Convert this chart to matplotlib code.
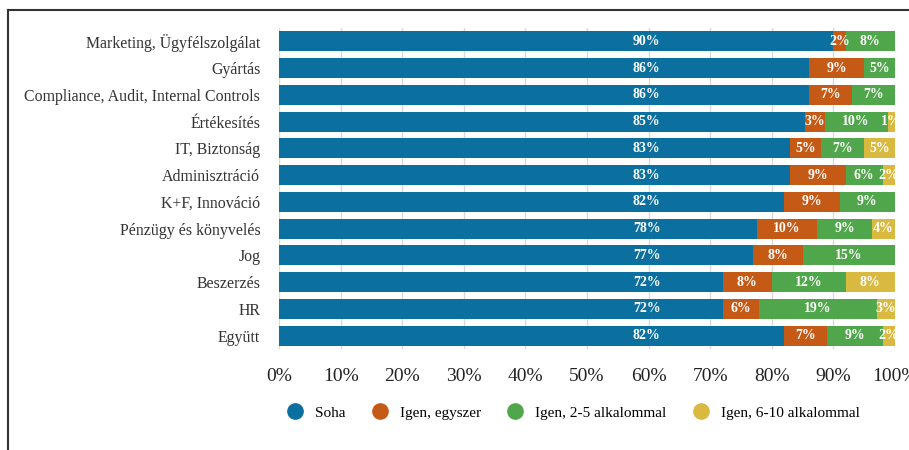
import numpy as np
import matplotlib.pyplot as plt
from matplotlib.lines import Line2D

plt.rcParams['font.family'] = ['Liberation Serif', 'DejaVu Serif']

# kategóriák (felülről lefelé)
kategoriak = ['Marketing, Ügyfélszolgálat', 'Gyártás', 'Compliance, Audit, Internal Controls',
              'Értékesítés', 'IT, Biztonság', 'Adminisztráció', 'K+F, Innováció',
              'Pénzügy és könyvelés', 'Jog', 'Beszerzés', 'HR', 'Együtt']

soha = [90, 86, 86, 85.4, 83, 83, 82, 77.6, 77, 72, 72, 82]
egyszer = [2, 9, 7, 3.2, 5, 9, 9, 9.7, 8, 8, 6, 7]
ketto_ot = [8, 5, 7, 10.2, 7, 6, 9, 9, 15, 12, 19, 9]
hat_tiz = [0, 0, 0, 1.2, 5, 2, 0, 3.7, 0, 8, 3, 2]

sorozatok = ['Soha', 'Igen, egyszer', 'Igen, 2-5 alkalommal', 'Igen, 6-10 alkalommal']
szinek = ['#0b6fa0', '#c55a17', '#50a64a', '#d9b940']

fig = plt.figure(figsize=(9.09, 4.5), dpi=100)
ax = fig.add_axes([279/909, 1-349/450, 616/909, 321/450])

y = np.arange(len(kategoriak))
bal = np.zeros(len(kategoriak))
for i, (nev, adat, szin) in enumerate(zip(sorozatok, [soha, egyszer, ketto_ot, hat_tiz], szinek)):
    adat = np.array(adat, dtype=float)
    ax.barh(y, adat, left=bal, height=0.75, color=szin, label=nev, zorder=2)
    for yi, b, w in zip(y, bal, adat):
        if w > 0:
            # a "Soha" címkék egy oszlopban állnak
            xpos = 59.7 if i == 0 else b + w/2
            ax.text(xpos, yi, f'{round(w):.0f}%', ha='center', va='center',
                    color='white', fontsize=10, fontweight='bold', zorder=3)
    bal += adat

ax.set_xlim(0, 100)
ax.set_ylim(len(kategoriak) - 0.5, -0.5)
ax.set_yticks(y)
ax.set_yticklabels(kategoriak, fontsize=11.4, color='#333333')
ax.set_xticks(np.arange(0, 101, 10))
ax.set_xticklabels([f'{v}%' for v in range(0, 101, 10)], fontsize=14, color='#222222')
ax.tick_params(length=0)
ax.tick_params(axis='y', pad=13.5)
ax.tick_params(axis='x', pad=14)
for s in ax.spines.values():
    s.set_visible(False)
ax.grid(axis='x', color='#d9d9d9', linewidth=1, zorder=0)

ax.legend(loc='upper center', bbox_to_anchor=(0.478, -0.13), ncol=4, frameon=False,
          fontsize=11, handlelength=1, handleheight=1, columnspacing=1.75,
          handles=[Line2D([], [], marker='o', linestyle='', markersize=11, color=c, label=n)
                   for n, c in zip(sorozatok, szinek)])

# keret
fig.add_artist(Line2D([8/909, 8/909], [0, 1-10/450], transform=fig.transFigure, color='#333333', linewidth=1.5))
fig.add_artist(Line2D([8/909, 1], [1-10/450, 1-10/450], transform=fig.transFigure, color='#333333', linewidth=1.5))

fig.savefig('out.png', dpi=100)
